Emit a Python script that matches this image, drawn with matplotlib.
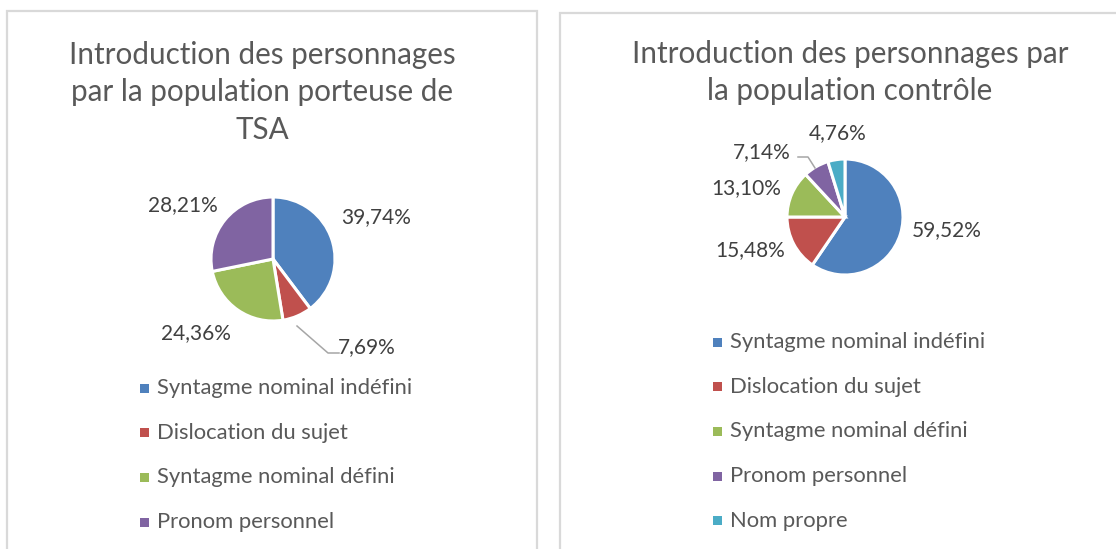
import matplotlib
matplotlib.use("Agg")
import matplotlib.pyplot as plt
from matplotlib.patches import Rectangle

# ---- data ----
left_title = "Introduction des personnages\npar la population porteuse de\nTSA"
left_categories = ["Syntagme nominal indéfini", "Dislocation du sujet",
                   "Syntagme nominal défini", "Pronom personnel"]
left_values = [39.74, 7.69, 24.36, 28.21]
left_labels = ["39,74%", "7,69%", "24,36%", "28,21%"]

right_title = "Introduction des personnages par\nla population contrôle"
right_categories = ["Syntagme nominal indéfini", "Dislocation du sujet",
                    "Syntagme nominal défini", "Pronom personnel", "Nom propre"]
right_values = [59.52, 15.48, 13.10, 7.14, 4.76]
right_labels = ["59,52%", "15,48%", "13,10%", "7,14%", "4,76%"]

colors = ["#4F81BD", "#C0504D", "#9BBB59", "#8064A2", "#4BACC6"]

W, H = 1116, 549
DPI = 100
plt.rcParams['font.family'] = ['Lato', 'DejaVu Sans']
TITLE_C = "#595959"
LABEL_C = "#404040"

fig = plt.figure(figsize=(W / DPI, H / DPI), dpi=DPI)


def fx(px):
    return px / W


def fy(py):
    return 1 - py / H


# panel borders
for (x0, y0, x1, y1) in [(7, 11, 537, 560), (560, 13, 1130, 560)]:
    fig.patches.append(Rectangle((fx(x0), fy(y1)), fx(x1 - x0), (y1 - y0) / H,
                                 transform=fig.transFigure, fill=False,
                                 edgecolor="#D9D9D9", linewidth=1.6, zorder=0))


def pie_axes(cx, cy, r, x0, y0, x1, y1):
    ax = fig.add_axes([fx(x0), fy(y1), (x1 - x0) / W, (y1 - y0) / H])
    return ax, ((x0 - cx) / r, (x1 - cx) / r), ((cy - y1) / r, (cy - y0) / r)


def to_data(px, py, cx, cy, r):
    return (px - cx) / r, (cy - py) / r


def draw_panel(cx, cy, r, box, values, labels, label_px, leaders, title,
               title_x, title_ys, cats, legend_x, legend_y0, legend_dy):
    ax, xl, yl = pie_axes(cx, cy, r, *box)
    ax.pie(values, colors=colors[:len(values)], startangle=90, counterclock=False,
           wedgeprops=dict(edgecolor="white", linewidth=2.2))
    ax.set_xlim(*xl)
    ax.set_ylim(*yl)
    ax.set_aspect('auto')
    ax.axis('off')
    for lab, (px, py) in zip(labels, label_px):
        x, y = to_data(px, py, cx, cy, r)
        ax.text(x, y, lab, ha="center", va="center", fontsize=15, color=LABEL_C)
    for pts in leaders:
        xs, ys = zip(*[to_data(px, py, cx, cy, r) for px, py in pts])
        ax.plot(xs, ys, color="#A6A6A6", linewidth=1.1)
    for line, ty in zip(title.split("\n"), title_ys):
        fig.text(fx(title_x), fy(ty), line, ha="center", va="center",
                 fontsize=21.3, color=TITLE_C)
    for i, cat in enumerate(cats):
        yc = legend_y0 + i * legend_dy
        fig.patches.append(Rectangle((fx(legend_x), fy(yc + 4.5)), 9 / W, 9 / H,
                                     transform=fig.transFigure,
                                     facecolor=colors[i], edgecolor="none"))
        fig.text(fx(legend_x + 17), fy(yc), cat, ha="left", va="center",
                 fontsize=15.8, color=TITLE_C)


draw_panel(273, 259, 62, (150, 150, 450, 370), left_values, left_labels,
           [(376, 217), (367, 347), (196, 333), (183, 205)],
           [[(297, 326), (328, 353), (339, 353)]],
           left_title, 262, [55, 92, 130],
           left_categories, 140, 388, 44.7)

draw_panel(845, 217, 58, (700, 120, 1000, 300), right_values, right_labels,
           [(947, 230), (750, 250), (746, 188), (762, 152), (838, 133)],
           [[(815, 168), (808, 157), (798, 157)]],
           right_title, 850, [54, 91],
           right_categories, 713, 342, 44.7)

fig.savefig("out.png", dpi=DPI)
